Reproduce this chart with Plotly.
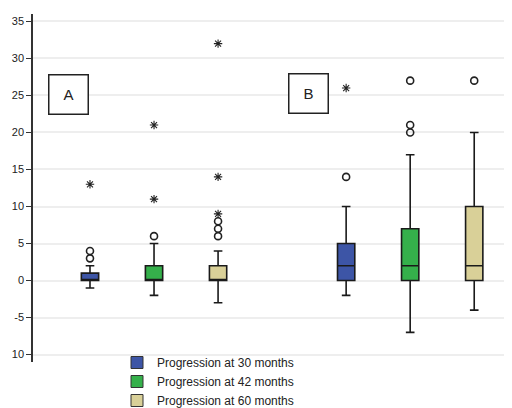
import plotly.graph_objects as go

# ---- data ----
series_names = ["Progression at 30 months", "Progression at 42 months", "Progression at 60 months"]
series_colors = ["#3d55a6", "#35b04b", "#d9d098"]
# positions: group A at 1,2,3 ; group B at 5,6,7
positions_A = [1, 2, 3]
positions_B = [5, 6, 7]

# box statistics
A_q1 = [0, 0, 0]
A_med = [0, 0, 0]
A_q3 = [1, 2, 2]
A_low = [-1, -2, -3]
A_up = [2, 5, 4]
A_circles = [[3, 4], [6], [6, 7, 8]]
A_stars = [[13], [11, 21], [9, 14, 32]]

B_q1 = [0, 0, 0]
B_med = [2, 2, 2]
B_q3 = [5, 7, 10]
B_low = [-2, -7, -4]
B_up = [10, 17, 20]
B_circles = [[14], [20, 21, 27], [27]]
B_stars = [[26], [], []]

y_ticks = [35, 30, 25, 20, 15, 10, 5, 0, -5, -10]
y_ticktext = ["35", "30", "25", "20", "15", "10", "5", "0", "-5", "10"]

fig = go.Figure()

for i in range(3):
    fig.add_trace(go.Box(
        x=[positions_A[i], positions_B[i]],
        q1=[A_q1[i], B_q1[i]], median=[A_med[i], B_med[i]], q3=[A_q3[i], B_q3[i]],
        lowerfence=[A_low[i], B_low[i]], upperfence=[A_up[i], B_up[i]],
        fillcolor=series_colors[i], line=dict(color="#1a1a1a", width=1.6),
        width=0.27, whiskerwidth=0.5, showlegend=False, name=series_names[i],
    ))
    cx, cy, sx, sy = [], [], [], []
    for v in A_circles[i]:
        cx.append(positions_A[i]); cy.append(v)
    for v in B_circles[i]:
        cx.append(positions_B[i]); cy.append(v)
    for v in A_stars[i]:
        sx.append(positions_A[i]); sy.append(v)
    for v in B_stars[i]:
        sx.append(positions_B[i]); sy.append(v)
    fig.add_trace(go.Scatter(x=cx, y=cy, mode="markers", showlegend=False,
                             marker=dict(symbol="circle-open", size=7, color="#222",
                                         line=dict(width=1.6, color="#222"))))
    fig.add_trace(go.Scatter(x=sx, y=sy, mode="markers", showlegend=False,
                             marker=dict(symbol="asterisk-open", size=7, color="#222",
                                         line=dict(width=1.1, color="#222"))))

# legend entries
for i in range(3):
    fig.add_trace(go.Scatter(x=[None], y=[None], mode="markers", name=series_names[i],
                             marker=dict(symbol="square", size=12, color=series_colors[i],
                                         line=dict(width=1, color="#333"))))

W = 479.0
H = 348.0
fig.add_annotation(xref="paper", yref="paper", x=(68 - 33) / W, y=1 - (95 - 14) / H,
                   text="A", showarrow=False)
fig.add_annotation(xref="paper", yref="paper", x=(308 - 33) / W, y=1 - (94 - 14) / H,
                   text="B", showarrow=False)
fig.update_annotations(font=dict(size=15, color="#222", family="Arial, Liberation Sans"),
                       bordercolor="#222", borderwidth=1.5, width=36, height=36,
                       bgcolor="white", xanchor="center", yanchor="middle")

fig.update_layout(
    width=504, height=400,
    margin=dict(l=25, r=0, t=6, b=46, autoexpand=False),
    paper_bgcolor="white", plot_bgcolor="white",
    font=dict(family="Arial, Liberation Sans, sans-serif", color="#333"),
    xaxis=dict(range=[0.11, 7.59], showticklabels=False, showgrid=False,
               zeroline=False, showline=False, ticks="", automargin=False),
    yaxis=dict(range=[-11, 36], tickvals=y_ticks, ticktext=y_ticktext,
               showgrid=True, gridcolor="#eeeeee", gridwidth=1.5, zeroline=False,
               showline=True, linecolor="#333", linewidth=1.5,
               ticks="outside", ticklen=5, tickcolor="#333", automargin=False,
               tickfont=dict(size=11, color="#222")),
    legend=dict(x=(117 - 33) / W, xanchor="left", yref="container", y=1 - 340 / 400.0,
                yanchor="top", font=dict(size=12, color="#222"), itemwidth=30,
                tracegroupgap=0, bgcolor="rgba(0,0,0,0)"),
)

fig.write_html("out.html")
